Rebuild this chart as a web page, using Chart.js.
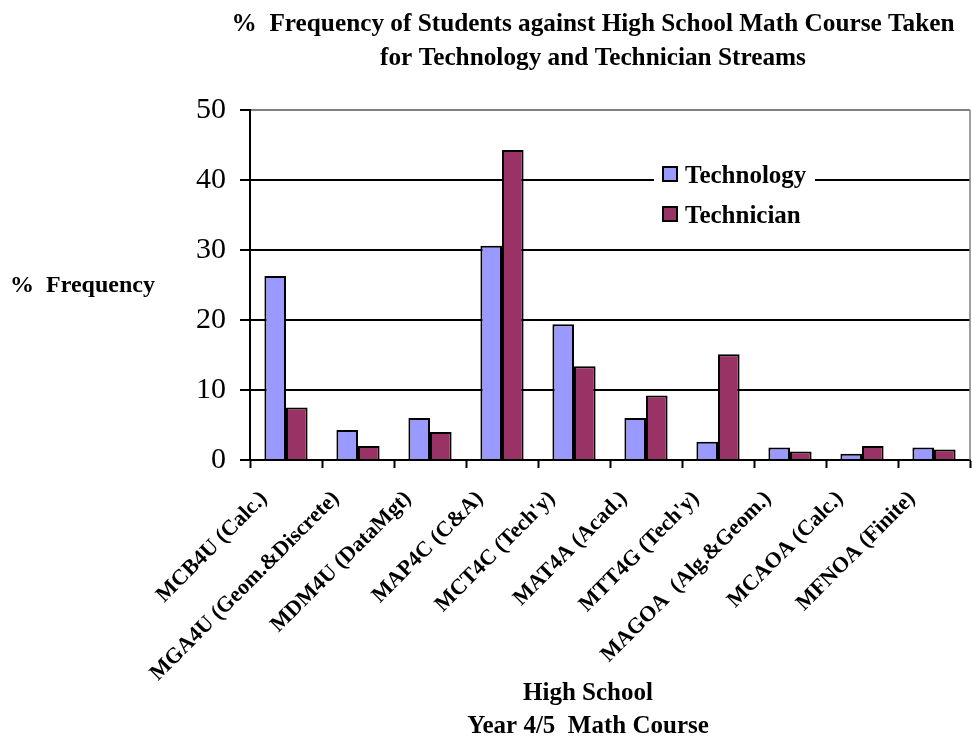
<!DOCTYPE html>
<html>
<head>
<meta charset="utf-8">
<script src="https://cdn.jsdelivr.net/npm/chart.js@4.4.1/dist/chart.umd.min.js"></script>
<style>
  html, body { margin: 0; padding: 0; background: #fff; }
  canvas { display: block; }
</style>
</head>
<body>
<canvas id="freqChart" width="972" height="738"></canvas>
<script>
// data
const courses = ['MCB4U (Calc.)', 'MGA4U (Geom.&Discrete)', 'MDM4U (DataMgt)', 'MAP4C (C&A)',
    'MCT4C (Tech\'y)', 'MAT4A (Acad.)', 'MTT4G (Tech\'y)', 'MAGOA  (Alg.&Geom.)', 'MCAOA (Calc.)', 'MFNOA (Finite)'];
const technology = [26.3, 4.3, 6.0, 30.6, 19.4, 6.0, 2.6, 1.8, 0.9, 1.8];
const technician = [7.5, 2.0, 4.0, 44.3, 13.4, 9.2, 15.1, 1.2, 2.0, 1.5];
const seriesNames = ['Technology', 'Technician'];
const titleLines = ['%  Frequency of Students against High School Math Course Taken', 'for Technology and Technician Streams'];
const yTitle = '%  Frequency';
const xTitleLines = ['High School', 'Year 4/5  Math Course'];

const serif = "'Liberation Serif', 'Times New Roman', serif";

// titles, axis titles and the legend box drawn on top
const decorPlugin = {
    id: 'decor',
    afterDraw(chart) {
        const ctx = chart.ctx;
        const area = chart.chartArea;
        ctx.save();

        // grey right border of the plot area
        ctx.strokeStyle = '#808080';
        ctx.lineWidth = 1.5;
        ctx.beginPath();
        ctx.moveTo(area.right, area.top);
        ctx.lineTo(area.right, area.bottom);
        ctx.stroke();

        ctx.fillStyle = '#000';
        ctx.textBaseline = 'alphabetic';

        // main title (condensed, like the original)
        ctx.font = 'bold 26px ' + serif;
        const sx = 723 / ctx.measureText(titleLines[0]).width;
        titleLines.forEach((line, i) => {
            ctx.save();
            ctx.translate(593, 31 + i * 34);
            ctx.scale(sx, 1);
            ctx.textAlign = 'center';
            ctx.fillText(line, 0, 0);
            ctx.restore();
        });

        // y title, horizontal
        ctx.font = 'bold 24px ' + serif;
        ctx.textAlign = 'left';
        ctx.fillText(yTitle, 10, 292);

        // x title
        ctx.font = 'bold 25px ' + serif;
        ctx.textAlign = 'center';
        xTitleLines.forEach((line, i) => ctx.fillText(line, 588, 700 + i * 33));

        // legend
        ctx.fillStyle = '#fff';
        ctx.fillRect(654, 158, 161, 74);
        ctx.font = 'bold 25px ' + serif;
        ctx.textAlign = 'left';
        chart.data.datasets.forEach((ds, i) => {
            const y = 167 + i * 40;
            ctx.fillStyle = ds.backgroundColor;
            ctx.fillRect(663, y, 14, 14);
            ctx.strokeStyle = '#000';
            ctx.lineWidth = 2;
            ctx.strokeRect(663, y, 14, 14);
            ctx.fillStyle = '#000';
            ctx.fillText(ds.label, 685, y + 16);
        });

        ctx.restore();
    }
};

let freqChart = new Chart(document.getElementById('freqChart'), {
    type: 'bar',
    data: {
        labels: courses,
        datasets: [
            {
                label: seriesNames[0],
                data: technology,
                backgroundColor: '#9999FF',
                borderColor: '#000',
                borderWidth: 2
            },
            {
                label: seriesNames[1],
                data: technician,
                backgroundColor: '#993366',
                borderColor: '#000',
                borderWidth: 2
            }
        ]
    },
    options: {
        responsive: false,
        animation: false,
        devicePixelRatio: 1,
        categoryPercentage: 0.6,
        barPercentage: 1.0,
        layout: {
            padding: { top: 110, right: 2, left: 0, bottom: 0 }
        },
        plugins: {
            legend: { display: false },
            title: { display: false },
            tooltip: { enabled: false }
        },
        scales: {
            x: {
                afterFit: scale => { scale.height = 278; },
                grid: {
                    offset: true,
                    drawOnChartArea: false,
                    drawTicks: true,
                    tickLength: 8,
                    tickColor: '#000',
                    tickWidth: 2
                },
                border: { color: '#000', width: 2 },
                ticks: {
                    autoSkip: false,
                    maxRotation: 45,
                    minRotation: 45,
                    labelOffset: -22,
                    padding: 18,
                    color: '#000',
                    font: { family: serif, size: 22, weight: 'bold' }
                }
            },
            y: {
                min: 0,
                max: 50,
                afterFit: scale => { scale.width = 250; },
                grid: {
                    color: ctx => (ctx.tick && ctx.tick.value === 50 ? '#808080' : '#000'),
                    lineWidth: 2,
                    tickLength: 10,
                    tickColor: '#000',
                    tickWidth: 2
                },
                border: { color: '#000', width: 2 },
                ticks: {
                    stepSize: 10,
                    padding: 14,
                    color: '#000',
                    font: { family: serif, size: 30 }
                }
            }
        }
    },
    plugins: [decorPlugin]
});
</script>
</body>
</html>
